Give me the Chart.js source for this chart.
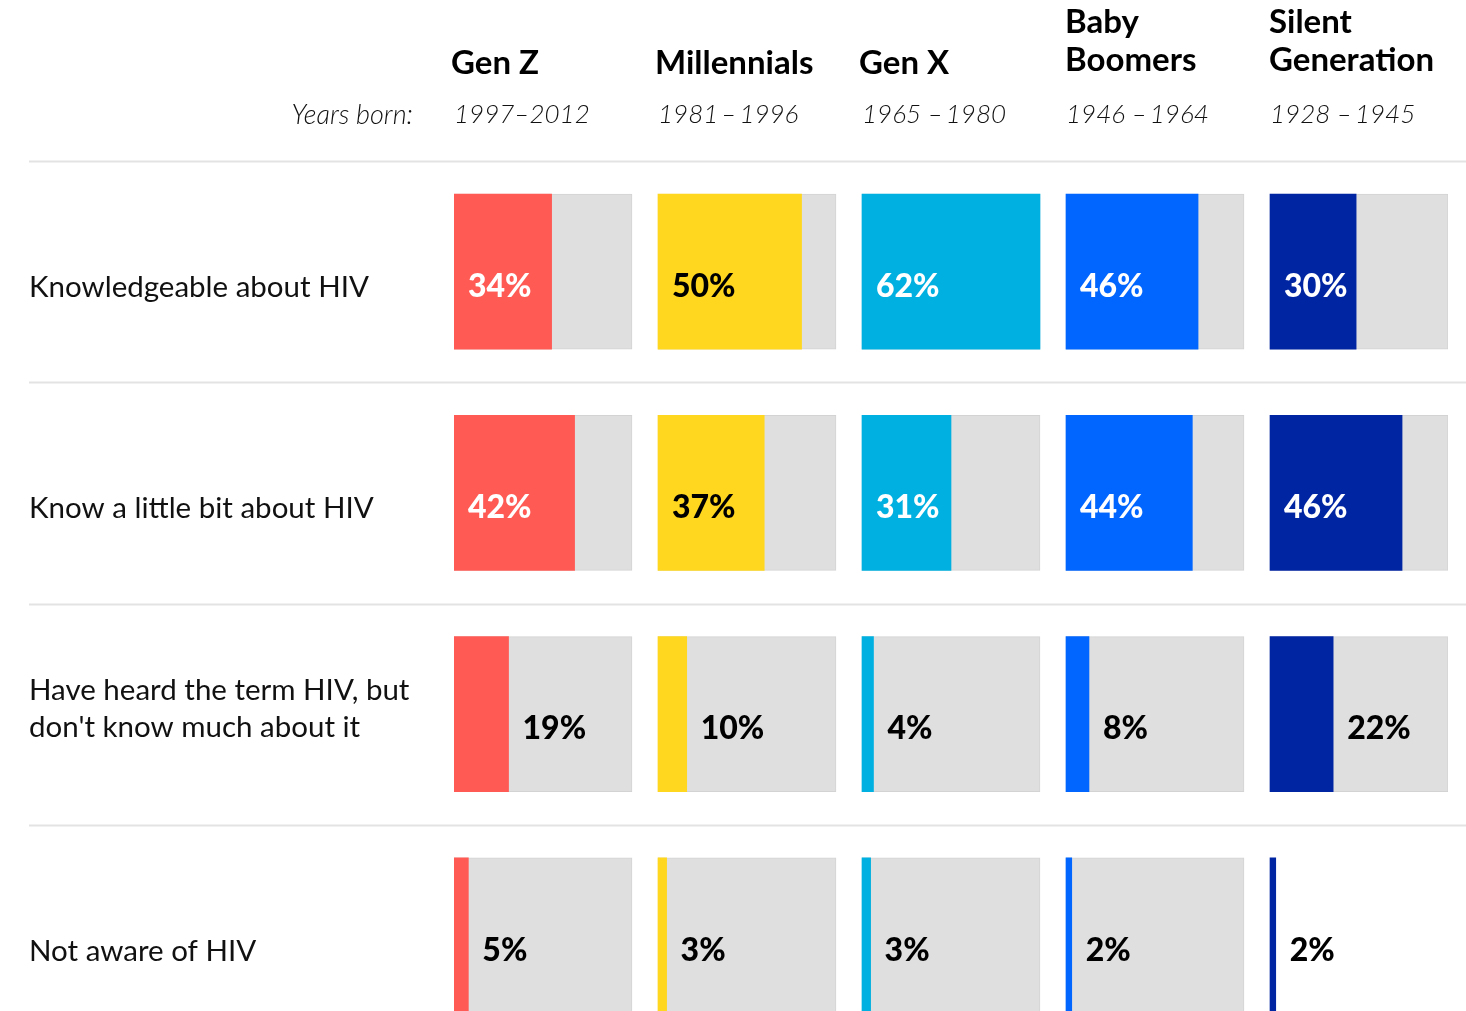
<!DOCTYPE html>
<html>
<head>
<meta charset="utf-8">
<script src="https://cdn.jsdelivr.net/npm/chart.js@4.4.1/dist/chart.umd.min.js"></script>
<style>
  html, body { margin: 0; padding: 0; background: #fff; overflow: hidden; }
  #wrap { width: 1466px; height: 1100px; }
</style>
</head>
<body>
<div id="wrap"><canvas id="hiv-chart" width="1466" height="1100"></canvas></div>
<script>
// Dati
var rowLabels = [
	['Knowledgeable about HIV'],
	['Know a little bit about HIV'],
	['Have heard the term HIV, but', "don't know much about it"],
	['Not aware of HIV']
];
var genNames = [['Gen Z'], ['Millennials'], ['Gen X'], ['Baby', 'Boomers'], ['Silent', 'Generation']];
var genYears = ['1997\u20132012', '1981\u2009\u2013\u20091996', '1965 \u2013\u20091980', '1946 \u2013\u20091964', '1928 \u2013\u20091945'];
var genColors = ['#FF5A54', '#FFD71E', '#00B0E0', '#0066FF', '#0025A3'];

var genZ        = [34, 42, 19, 5];
var millennials = [50, 37, 10, 3];
var genX        = [62, 31, 4, 3];
var boomers     = [46, 44, 8, 2];
var silent      = [30, 46, 22, 2];
var series = [genZ, millennials, genX, boomers, silent];

// box background shown per cell (the last silent cell has none in the source)
var boxFull = [
	[62, 62, 62, 62],
	[62, 62, 62, 62],
	[62, 62, 62, 62],
	[62, 62, 62, 62],
	[62, 62, 62, null]
];

var scaleMax = 62;
var colStep = scaleMax * 204 / 178;   // box + gap, in value units

// Serie di dati
var datasets = [];
var $each = function(arr, fn){ for (var i = 0; i < arr.length; i++) fn(i, arr[i]); };

$each(series, function(c, vals){
	var start = c * colStep;
	datasets.push({
		label: genNames[c].join(' '),
		data: vals.map(function(v){ return [start, start + v]; }),
		backgroundColor: genColors[c],
		borderWidth: 0,
		grouped: false,
		order: 0
	});
	datasets.push({
		label: genNames[c].join(' ') + ' box',
		data: boxFull[c].map(function(v){ return v === null ? null : [start, start + v]; }),
		backgroundColor: '#DFDFDF',
		borderColor: '#D3D3D3',
		borderWidth: 1,
		borderSkipped: false,
		grouped: false,
		order: 1
	});
});

var FONT = 'Lato, "Noto Sans", sans-serif';

var textPlugin = {
	id: 'textPlugin',
	beforeDatasetsDraw: function(chart){
		var ctx = chart.ctx, y = chart.scales.y;
		var half = (y.getPixelForValue(1) - y.getPixelForValue(0)) / 2;
		ctx.save();
		ctx.strokeStyle = '#E3E3E3';
		ctx.lineWidth = 2;
		for (var i = 0; i < rowLabels.length; i++) {
			var yy = Math.round(y.getPixelForValue(i) - half) + 0.5;
			ctx.beginPath();
			ctx.moveTo(29, yy);
			ctx.lineTo(chart.width, yy);
			ctx.stroke();
		}
		ctx.restore();
	},
	afterDatasetsDraw: function(chart){
		var ctx = chart.ctx, x = chart.scales.x, y = chart.scales.y;
		ctx.save();
		ctx.textBaseline = 'middle';

		// row labels
		ctx.fillStyle = '#111';
		ctx.font = '400 29.5px ' + FONT;
		ctx.textAlign = 'left';
		$each(rowLabels, function(i, lines){
			var cy = y.getPixelForValue(i) + 16;
			var lh = 37;
			var top = cy - (lines.length - 1) * lh / 2 - (lines.length > 1 ? 21 : 0);
			$each(lines, function(k, t){ ctx.fillText(t, 29, top + k * lh); });
		});

		// headers
		$each(genNames, function(c, lines){
			var left = x.getPixelForValue(c * colStep);
			ctx.font = '700 33px ' + FONT;
			ctx.fillStyle = '#000';
			if (lines.length === 1) {
				ctx.fillText(lines[0], left - 3, 63);
			} else {
				ctx.fillText(lines[0], left - 1, 22);
				ctx.fillText(lines[1], left - 1, 60);
			}
			ctx.font = 'italic 300 26px ' + FONT;
			ctx.fillStyle = '#111';
			ctx.fillText(genYears[c], left, 115);
		});
		ctx.textAlign = 'right';
		ctx.font = 'italic 300 27px ' + FONT;
		ctx.fillText('Years born:', 413, 115);

		// percent labels
		ctx.textAlign = 'left';
		ctx.font = '900 32px ' + FONT;
		$each(series, function(c, vals){
			var start = c * colStep;
			$each(vals, function(i, v){
				var cy = y.getPixelForValue(i) + 15;
				var px;
				if (v >= 25) {
					px = x.getPixelForValue(start) + 14;
					ctx.fillStyle = c === 1 ? '#000' : '#fff';
				} else {
					px = x.getPixelForValue(start + v) + 14;
					ctx.fillStyle = '#000';
				}
				ctx.fillText(v + '%', px, cy);
			});
		});
		ctx.restore();
	}
};

// Crea grafico
var ctx = document.getElementById('hiv-chart').getContext('2d');
var myChart = new Chart(ctx, {
	type: 'bar',
	data: {
		labels: rowLabels.map(function(l){ return l.join(' '); }),
		datasets: datasets
	},
	options: {
		indexAxis: 'y',
		responsive: false,
		animation: false,
		layout: { padding: { left: 454, right: 18, top: 161, bottom: 54 } },
		datasets: { bar: { barThickness: 155 } },
		scales: {
			x: { type: 'linear', display: false, min: 0, max: 4 * colStep + scaleMax },
			y: { display: false }
		},
		plugins: {
			legend: { display: false },
			tooltip: { enabled: false }
		}
	},
	plugins: [textPlugin]
});
</script>
</body>
</html>
